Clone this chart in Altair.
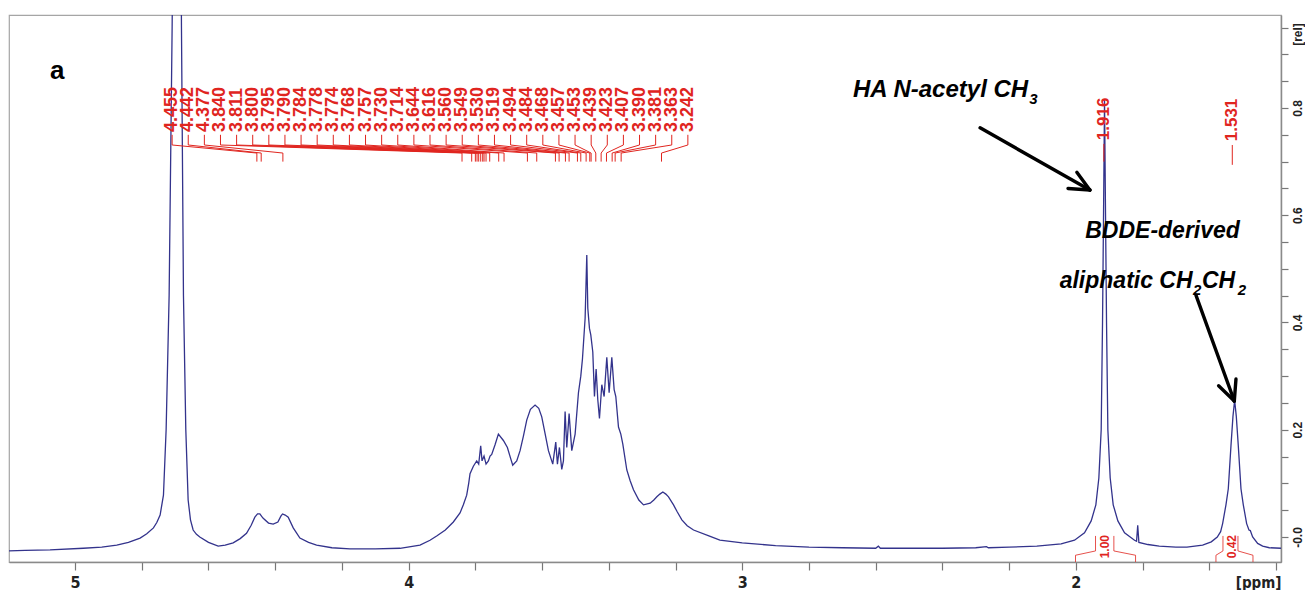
import altair as alt
import pandas as pd

# ---------------- spectrum (ppm, relative intensity) ----------------
WATER_REGION = [
    (5.198, -0.026), (5.150, -0.025), (5.075, -0.024), (4.975, -0.021), (4.920, -0.019),
    (4.875, -0.015), (4.840, -0.010), (4.805, -0.002), (4.785, 0.006), (4.765, 0.017),
    (4.755, 0.027), (4.745, 0.041), (4.735, 0.078), (4.727, 0.200), (4.718, 0.450),
    (4.709, 0.950), (4.700, 1.600), (4.694, 2.000), (4.687, 1.600), (4.681, 0.950),
    (4.675, 0.450), (4.668, 0.200), (4.661, 0.069), (4.654, 0.032), (4.646, 0.013),
    (4.636, 0.005), (4.626, 0.000), (4.600, -0.010), (4.571, -0.017), (4.550, -0.015),
    (4.526, -0.011), (4.505, -0.003), (4.486, 0.007), (4.472, 0.022), (4.461, 0.037),
    (4.453, 0.043), (4.446, 0.043), (4.440, 0.038), (4.436, 0.035), (4.420, 0.026),
    (4.406, 0.024), (4.392, 0.028), (4.383, 0.039), (4.378, 0.043), (4.370, 0.041),
    (4.361, 0.037), (4.346, 0.017), (4.326, -0.002), (4.300, -0.010), (4.276, -0.015),
    (4.230, -0.020), (4.176, -0.022), (4.100, -0.022), (4.026, -0.021),
]
RING_REGION = [
    (3.966, -0.015), (3.936, -0.006), (3.916, 0.002), (3.890, 0.013), (3.866, 0.028),
    (3.846, 0.045), (3.836, 0.060), (3.826, 0.078), (3.820, 0.100), (3.816, 0.118),
    (3.806, 0.132), (3.796, 0.142),
    (3.790, 0.136), (3.784, 0.170), (3.780, 0.142), (3.774, 0.151), (3.768, 0.136),
    (3.761, 0.142), (3.756, 0.151), (3.751, 0.154), (3.741, 0.172), (3.731, 0.192),
    (3.716, 0.180), (3.704, 0.167), (3.695, 0.148), (3.688, 0.134), (3.676, 0.142),
    (3.666, 0.161), (3.656, 0.188), (3.646, 0.218), (3.635, 0.238), (3.621, 0.246),
    (3.610, 0.240), (3.601, 0.224), (3.591, 0.193), (3.581, 0.161), (3.568, 0.136),
    (3.559, 0.177), (3.554, 0.136), (3.548, 0.167), (3.541, 0.126), (3.536, 0.142),
    (3.531, 0.234), (3.526, 0.167), (3.519, 0.230), (3.511, 0.161), (3.501, 0.192),
    (3.491, 0.269), (3.484, 0.300), (3.479, 0.332), (3.471, 0.408), (3.466, 0.526),
    (3.463, 0.427), (3.458, 0.389), (3.454, 0.377), (3.448, 0.345), (3.443, 0.262),
    (3.438, 0.313), (3.433, 0.256), (3.428, 0.221), (3.421, 0.284), (3.414, 0.262),
    (3.406, 0.335), (3.399, 0.269), (3.391, 0.335), (3.384, 0.275), (3.379, 0.262),
    (3.371, 0.205), (3.364, 0.192), (3.358, 0.173), (3.346, 0.125), (3.336, 0.105),
    (3.326, 0.088), (3.310, 0.069), (3.296, 0.060), (3.276, 0.063), (3.265, 0.069),
    (3.256, 0.075), (3.247, 0.080), (3.238, 0.084), (3.229, 0.080), (3.221, 0.075),
    (3.206, 0.060), (3.195, 0.047), (3.181, 0.032), (3.165, 0.021), (3.146, 0.013),
    (3.100, 0.002), (3.067, -0.006),
]
BASELINE_REGION = [
    (3.000, -0.011), (2.900, -0.016), (2.800, -0.019), (2.700, -0.020), (2.600, -0.021),
    (2.592, -0.017), (2.586, -0.021), (2.500, -0.021), (2.400, -0.021), (2.300, -0.020),
    (2.268, -0.018), (2.262, -0.020), (2.200, -0.019), (2.117, -0.017),
]
ACETYL_REGION = [
    (2.044, -0.013), (2.004, -0.006), (1.974, 0.008), (1.954, 0.030), (1.940, 0.060),
    (1.931, 0.110), (1.924, 0.200), (1.920, 0.400), (1.917, 0.600), (1.914, 0.815),
    (1.911, 0.600), (1.908, 0.400), (1.904, 0.200), (1.897, 0.110), (1.888, 0.060),
    (1.874, 0.030), (1.854, 0.008), (1.824, -0.006), (1.818, -0.008), (1.8145, 0.022),
    (1.811, -0.010), (1.784, -0.014), (1.750, -0.017), (1.700, -0.019), (1.667, -0.019),
]
BDDE_REGION = [
    (1.620, -0.015), (1.594, -0.009), (1.576, 0.000), (1.566, 0.010), (1.560, 0.025),
    (1.550, 0.060), (1.543, 0.090), (1.535, 0.170), (1.529, 0.225), (1.524, 0.255),
    (1.519, 0.225), (1.513, 0.170), (1.505, 0.090), (1.498, 0.060), (1.488, 0.025),
    (1.481, 0.013), (1.477, 0.012), (1.470, 0.000), (1.455, -0.012), (1.440, -0.017),
    (1.420, -0.020), (1.385, -0.021),
]

PEAK_LABELS = ["4.455", "4.442", "4.377", "3.840", "3.811", "3.800", "3.795", "3.790",
               "3.784", "3.778", "3.774", "3.768", "3.757", "3.730", "3.714", "3.644",
               "3.616", "3.560", "3.549", "3.530", "3.519", "3.494", "3.484", "3.468",
               "3.457", "3.453", "3.439", "3.423", "3.407", "3.390", "3.381", "3.363",
               "3.242"]
SINGLE_LABELS = ["1.916", "1.531"]
INTEGRAL_TEXT = ["1.00", "0.42"]
INTEGRAL_CENTER = [1.914, 1.532]
INTEGRAL_OUTER = [(2.001, 1.821), (1.580, 1.469)]
INTEGRAL_INNER = [(1.941, 1.886), (1.559, 1.514)]

X_TICKS = [5.0, 4.8, 4.6, 4.4, 4.2, 4.0, 3.8, 3.6, 3.4, 3.2, 3.0, 2.8, 2.6, 2.4, 2.2,
           2.0, 1.8, 1.6, 1.4]
Y_TICKS = [0.0, 0.05, 0.1, 0.15, 0.2, 0.25, 0.3, 0.35, 0.4, 0.45, 0.5, 0.55,
           0.6, 0.65, 0.7, 0.75, 0.8, 0.85, 0.9, 0.95]

# ---------------- styling ----------------
BLUE = "#33338c"
RED = "#e0251f"
NARROW = "Liberation Sans Narrow, DejaVu Sans Condensed, Liberation Sans"
SANS = "Liberation Sans, Arial, sans-serif"

xs = alt.Scale(domain=[5.198, 1.385], nice=False, zero=False)
ys = alt.Scale(domain=[-0.0466, 0.9734], nice=False, zero=False)

spec_df = pd.DataFrame(WATER_REGION + RING_REGION + BASELINE_REGION + ACETYL_REGION + BDDE_REGION,
                       columns=["ppm", "rel"])

x_axis = alt.Axis(
    values=X_TICKS,
    labelExpr="abs(datum.value - round(datum.value)) < 0.001 ? format(datum.value, 'd') : ''",
    grid=False, tickSize=8, tickColor="#777", tickWidth=1.2,
    domainColor="#8a8a8a", domainWidth=1.5,
    labelFont=NARROW, labelFontSize=16, labelFontWeight="bold", labelColor="#222",
    labelPadding=4, labelOverlap=False,
    title="[ppm]", titleFont=NARROW, titleFontSize=15, titleFontWeight="bold",
    titleColor="#222", titleAlign="right", titleAnchor="end", titleBaseline="middle",
    titleX=1272, titleY=20,
)
y_axis = alt.Axis(
    orient="right", values=Y_TICKS,
    labelExpr="abs(round(datum.value * 20)) % 4 == 0 ? (abs(datum.value) < 0.001 ? '-0.0' : format(datum.value, '.1f')) : ''",
    grid=False, tickSize=7, tickColor="#777", tickWidth=1.2,
    domainColor="#8a8a8a", domainWidth=1.5,
    labelFont=SANS, labelFontSize=12, labelFontWeight="bold", labelColor="#222",
    labelAngle=270, labelAlign="center", labelBaseline="top", labelPadding=4,
    labelOverlap=False,
    title="[rel]", titleFont=SANS, titleFontSize=12, titleFontWeight="bold",
    titleColor="#222", titleAngle=270, titleAlign="center", titleBaseline="top",
    titleX=11, titleY=19,
)


def X(field):
    return alt.X(field, scale=xs, axis=x_axis)


def Y(field):
    return alt.Y(field, scale=ys, axis=y_axis)


spectrum = alt.Chart(spec_df).mark_line(clip=True, color=BLUE, strokeWidth=1.3).encode(
    x=X("ppm:Q"), y=Y("rel:Q"))

# ---------------- peak labels over the ring-proton cluster ----------------
n = len(PEAK_LABELS)
slot_start, slot_end = 4.709, 3.163
lab_rows = []
for i, lab in enumerate(PEAK_LABELS):
    slot = slot_start + (slot_end - slot_start) * i / (n - 1)
    lab_rows.append(dict(label=lab, slot=slot, peak=float(lab),
                         ty=0.755, t1=0.750, t2=0.731, t3=0.716, t4=0.700))
lab_df = pd.DataFrame(lab_rows)

cluster_text = alt.Chart(lab_df).mark_text(
    angle=270, align="left", baseline="middle", font=SANS, fontSize=18,
    fontWeight="bold", color=RED,
).encode(x=X("slot:Q"), y=Y("ty:Q"), text="label:N")
cluster_tick = alt.Chart(lab_df).mark_rule(color=RED, strokeWidth=1).encode(
    x=X("slot:Q"), y=Y("t1:Q"), y2="t2:Q")
cluster_diag = alt.Chart(lab_df).mark_rule(color=RED, strokeWidth=1).encode(
    x=X("slot:Q"), y=Y("t2:Q"), x2="peak:Q", y2="t3:Q")
cluster_foot = alt.Chart(lab_df).mark_rule(color=RED, strokeWidth=1).encode(
    x=X("peak:Q"), y=Y("t3:Q"), y2="t4:Q")

# ---------------- single peak labels ----------------
single_df = pd.DataFrame(dict(
    label=SINGLE_LABELS, peak=[float(v) for v in SINGLE_LABELS],
    ty=[0.740, 0.738], d1=[0.733, 0.731], d2=[0.700, 0.694]))
single_text = alt.Chart(single_df).mark_text(
    angle=270, align="left", baseline="middle", font=SANS, fontSize=17,
    fontWeight="bold", color=RED,
).encode(x=X("peak:Q"), y=Y("ty:Q"), text="label:N")
single_dash = alt.Chart(single_df).mark_rule(color=RED, strokeWidth=1).encode(
    x=X("peak:Q"), y=Y("d1:Q"), y2="d2:Q")

# ---------------- integral brackets ----------------
br_rows = []
for k, ((ol, orr), (il, ir)) in enumerate(zip(INTEGRAL_OUTER, INTEGRAL_INNER)):
    left = [(ol, -0.0466), (ol, -0.034), (il, -0.026), (il, 0.002)]
    right = [(ir, 0.002), (ir, -0.026), (orr, -0.034), (orr, -0.0466)]
    for side, pts in (("L", left), ("R", right)):
        for j, (px, py) in enumerate(pts):
            br_rows.append(dict(seg=f"{k}{side}", ord=j, ppm=px, rel=py))
br_df = pd.DataFrame(br_rows)
brackets = alt.Chart(br_df).mark_line(color=RED, strokeWidth=1, opacity=0.8).encode(
    x=X("ppm:Q"), y=Y("rel:Q"), detail="seg:N", order="ord:Q")

int_df = pd.DataFrame(dict(label=INTEGRAL_TEXT, ppm=INTEGRAL_CENTER, rel=[-0.018, -0.018]))
int_text = alt.Chart(int_df).mark_text(
    angle=270, align="center", baseline="middle", font=SANS, fontSize=12,
    fontWeight="bold", color=RED,
).encode(x=X("ppm:Q"), y=Y("rel:Q"), text="label:N")

# ---------------- arrows ----------------
arrow_df = pd.DataFrame(dict(
    x=[2.287, 1.958, 1.958, 1.640, 1.525, 1.525],
    y=[0.763, 0.647, 0.647, 0.451, 0.2536, 0.2536],
    x2=[1.958, 2.0235, 1.997, 1.525, 1.572, 1.520],
    y2=[0.647, 0.650, 0.680, 0.2536, 0.282, 0.2946],
))
arrows = alt.Chart(arrow_df).mark_rule(color="#000", strokeWidth=3.4, strokeCap="round").encode(
    x=X("x:Q"), y=Y("y:Q"), x2="x2:Q", y2="y2:Q")


# ---------------- annotation texts ----------------
def note(text, ppm, rel, size, align, style="italic"):
    df = pd.DataFrame(dict(t=[text], ppm=[ppm], rel=[rel]))
    return alt.Chart(df).mark_text(
        align=align, baseline="alphabetic", font=SANS, fontSize=size,
        fontWeight="bold", fontStyle=style, color="#000",
    ).encode(x=X("ppm:Q"), y=Y("rel:Q"), text="t:N")


notes = [
    note("HA N-acetyl CH", 2.143, 0.8205, 24, "right"),
    note("3", 2.140, 0.807, 15, "left"),
    note("BDDE-derived", 1.740, 0.5576, 23, "center"),
    note("aliphatic CH", 1.650, 0.4643, 23, "right"),
    note("2", 1.649, 0.451, 15, "left"),
    note("CH", 1.622, 0.4643, 23, "left"),
    note("2", 1.515, 0.451, 15, "left"),
    note("a", 5.075, 0.854, 26, "left", style="normal"),
]

chart = alt.layer(
    spectrum, brackets, int_text,
    cluster_tick, cluster_diag, cluster_foot, cluster_text,
    single_dash, single_text,
    arrows, *notes,
).properties(
    width=1272, height=547,
    padding={"left": 1, "top": 7, "right": 24, "bottom": 28},
    autosize=alt.AutoSizeParams(type="none"),
).configure_view(stroke="#a5a5a5", strokeWidth=1.2)

chart.save("out.html", embed_options={"renderer": "svg", "actions": False})
